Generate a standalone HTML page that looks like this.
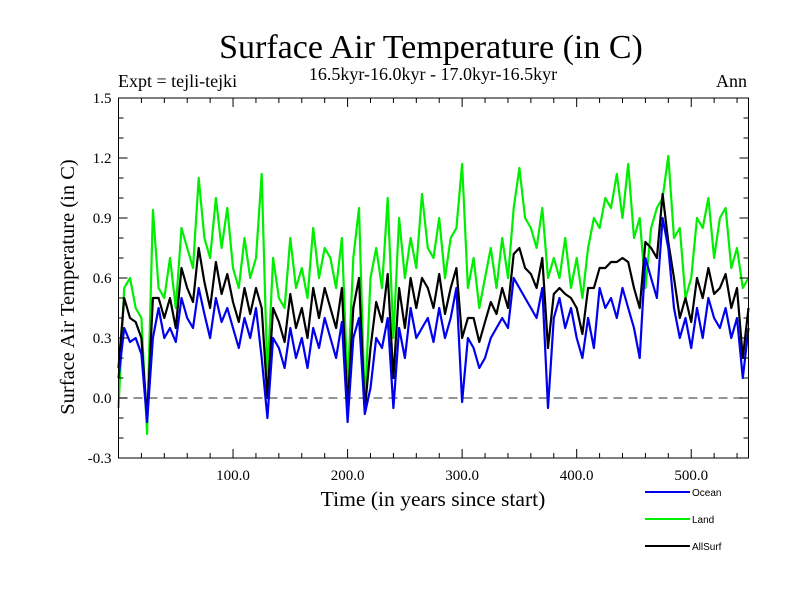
<!DOCTYPE html>
<html><head><meta charset="utf-8"><style>
body{margin:0;background:#fff}
svg{display:block}
text{font-family:"Liberation Serif",serif;fill:#000}
</style></head><body>
<svg id="chart" width="800" height="600">
<text x="431" y="58" font-size="34" text-anchor="middle">Surface Air Temperature (in C)</text>
<text x="433" y="80" font-size="18" text-anchor="middle">16.5kyr-16.0kyr - 17.0kyr-16.5kyr</text>
<text x="118" y="87" font-size="18">Expt = tejli-tejki</text>
<text x="747" y="87" font-size="18" text-anchor="end">Ann</text>
<text transform="translate(74,287) rotate(-90)" font-size="20.5" text-anchor="middle">Surface Air Temperature (in C)</text>
<text x="433" y="506" font-size="21.6" text-anchor="middle">Time (in years since start)</text>
<g id="marks"></g>
<g id="axes"></g>
<g id="legend"></g>
</svg>
<script>
const yTicks=[-0.3,0,0.3,0.6,0.9,1.2,1.5];
const yTickLabels=["-0.3","0.0","0.3","0.6","0.9","1.2","1.5"];
const xTicks=[100,200,300,400,500];
const xTickLabels=["100.0","200.0","300.0","400.0","500.0"];
const step=5;
const ocean=[0.10,0.35,0.28,0.30,0.22,-0.12,0.30,0.45,0.30,0.35,0.28,0.50,0.40,0.35,0.55,0.42,0.30,0.50,0.38,0.45,0.35,0.25,0.40,0.30,0.45,0.20,-0.10,0.30,0.25,0.15,0.35,0.20,0.30,0.15,0.35,0.25,0.40,0.30,0.20,0.38,-0.12,0.30,0.40,-0.08,0.05,0.30,0.25,0.40,-0.05,0.35,0.20,0.45,0.30,0.35,0.40,0.28,0.45,0.30,0.40,0.55,-0.02,0.30,0.25,0.15,0.20,0.30,0.35,0.40,0.35,0.60,0.55,0.50,0.45,0.40,0.55,-0.05,0.40,0.50,0.35,0.45,0.30,0.20,0.40,0.25,0.55,0.45,0.50,0.40,0.55,0.45,0.35,0.20,0.70,0.60,0.50,0.90,0.75,0.45,0.30,0.40,0.25,0.45,0.30,0.50,0.40,0.35,0.45,0.30,0.40,0.10,0.35];
const land=[-0.05,0.55,0.60,0.45,0.40,-0.18,0.94,0.55,0.50,0.70,0.45,0.85,0.75,0.65,1.10,0.80,0.70,1.00,0.75,0.95,0.65,0.55,0.80,0.60,0.70,1.12,0.10,0.70,0.50,0.45,0.80,0.55,0.65,0.50,0.85,0.60,0.75,0.70,0.55,0.80,0.05,0.70,0.95,-0.05,0.60,0.75,0.55,1.00,0.30,0.90,0.60,0.80,0.65,1.02,0.75,0.70,0.90,0.60,0.80,0.85,1.17,0.55,0.70,0.45,0.60,0.75,0.55,0.80,0.60,0.95,1.15,0.90,0.85,0.75,0.95,0.60,0.70,0.60,0.80,0.55,0.70,0.50,0.75,0.90,0.85,1.00,0.95,1.12,0.90,1.17,0.80,0.90,0.55,0.85,0.95,1.00,1.21,0.80,0.85,0.50,0.60,0.90,0.85,1.00,0.70,0.90,0.95,0.65,0.75,0.55,0.60];
const allsurf=[0.15,0.50,0.40,0.38,0.30,-0.10,0.50,0.50,0.40,0.50,0.35,0.65,0.55,0.48,0.75,0.58,0.45,0.68,0.52,0.62,0.48,0.38,0.55,0.42,0.55,0.45,0.00,0.45,0.38,0.28,0.52,0.35,0.45,0.30,0.55,0.40,0.55,0.45,0.35,0.55,-0.05,0.45,0.60,-0.06,0.25,0.48,0.38,0.62,0.10,0.55,0.35,0.60,0.45,0.60,0.55,0.45,0.62,0.42,0.55,0.65,0.30,0.40,0.40,0.28,0.38,0.48,0.42,0.55,0.45,0.72,0.75,0.65,0.62,0.55,0.70,0.25,0.52,0.55,0.52,0.50,0.45,0.32,0.55,0.55,0.65,0.65,0.68,0.68,0.70,0.68,0.55,0.45,0.78,0.75,0.70,1.02,0.78,0.60,0.40,0.50,0.38,0.60,0.50,0.65,0.52,0.55,0.62,0.45,0.55,0.20,0.45];
const L=118.5,R=748.5,T=98,B=458,xMax=550,yMin=-0.3,yMax=1.5;
function xs(t){return L+(t/xMax)*(R-L);}
function ys(v){return B-(v-yMin)/(yMax-yMin)*(B-T);}
const NS="http://www.w3.org/2000/svg";
function mk(tag,attrs,parent){const e=document.createElementNS(NS,tag);for(const k in attrs)e.setAttribute(k,attrs[k]);parent.appendChild(e);return e;}
const marks=document.getElementById('marks'),axes=document.getElementById('axes'),leg=document.getElementById('legend');
const zl=mk('line',{x1:L,x2:R,y1:ys(0),y2:ys(0),stroke:'#555','stroke-width':1.3,'stroke-dasharray':'9,6'},marks);


function series(arr,color,name){
  const d=arr.map((v,i)=>(i?'L':'M')+xs(i*step).toFixed(1)+','+ys(v).toFixed(1)).join('');
  const p=mk('path',{d:d,fill:'none',stroke:color,'stroke-width':2.2,'stroke-linejoin':'round'},marks);
  
  
}
series(land,'#00ee00','land-line');
series(allsurf,'#000000','allsurf-line');
series(ocean,'#0000ee','ocean-line');
const fr=mk('rect',{x:L,y:T,width:R-L,height:B-T,fill:'none',stroke:'#000','stroke-width':1},axes);


for(let v=-0.3;v<=1.501;v+=0.1){
  const y=ys(v),major=Math.abs(Math.round(v*10)%3)===0,len=major?9:5;
  mk('line',{x1:L,x2:L+len,y1:y,y2:y,stroke:'#000'},axes);
  mk('line',{x1:R,x2:R-len,y1:y,y2:y,stroke:'#000'},axes);
}
yTicks.forEach((v,i)=>{
  const t=mk('text',{x:L-7,y:ys(v)+5,'font-size':15,'text-anchor':'end'},axes);
  t.textContent=yTickLabels[i];
  
  
});
for(let t=20;t<xMax;t+=20){
  const x=xs(t),len=(t%100===0)?9:5;
  mk('line',{x1:x,x2:x,y1:B,y2:B-len,stroke:'#000'},axes);
  mk('line',{x1:x,x2:x,y1:T,y2:T+len,stroke:'#000'},axes);
}
xTicks.forEach((v,i)=>{
  const t=mk('text',{x:xs(v),y:B+22,'font-size':15,'text-anchor':'middle'},axes);
  t.textContent=xTickLabels[i];
  
  
});
[['Ocean','#0000ee',492],['Land','#00ee00',519],['AllSurf','#000000',546]].forEach(e=>{
  const l=mk('line',{x1:645,x2:690,y1:e[2],y2:e[2],stroke:e[1],'stroke-width':2},leg);
  
  
  const t=mk('text',{x:692,y:e[2]+4,'font-size':10,style:'font-family:"Liberation Sans",sans-serif'},leg);
  t.textContent=e[0];
  
  
});
</script>
</body></html>
